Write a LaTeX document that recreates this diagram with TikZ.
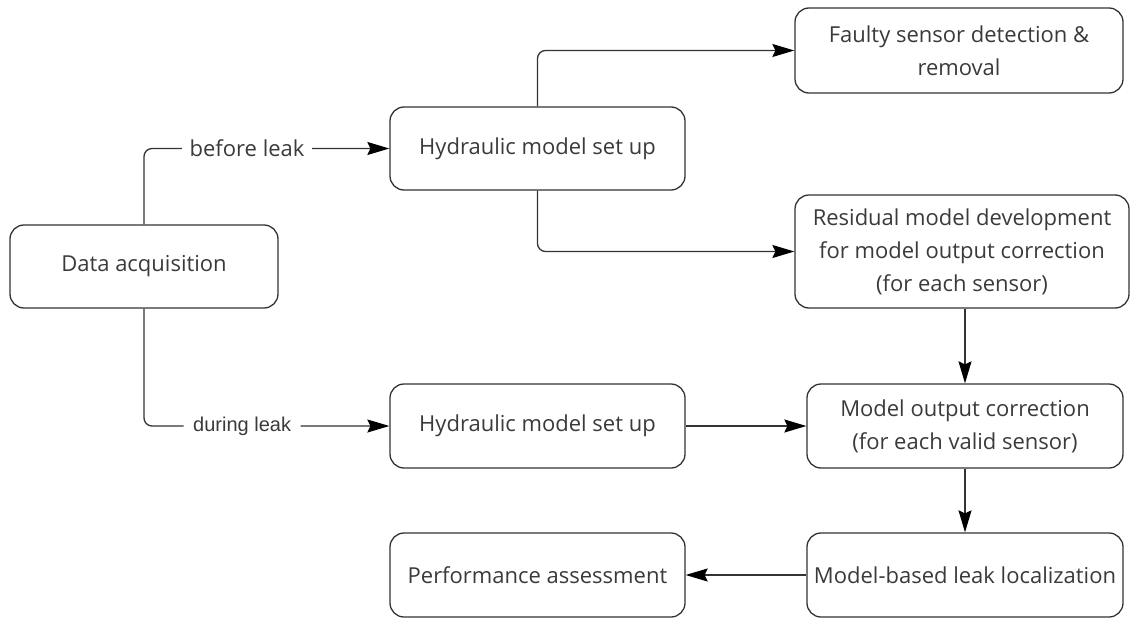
\documentclass[tikz,border=0pt]{standalone}
\usepackage{fontspec}
\setmainfont{Open Sans}
\newfontfamily\arialfont{Liberation Sans}
\usetikzlibrary{arrows.meta}
\definecolor{linec}{HTML}{333333}
\definecolor{textc}{HTML}{3A3A3A}
\begin{document}
\begin{tikzpicture}[x=1pt,y=-1pt,
  box/.style={draw=linec, line width=1.3pt, rounded corners=14pt, rectangle,
    align=center, text=textc, inner sep=0pt, font=\fontsize{22}{33}\selectfont},
  arr/.style={draw=linec, line width=1.3pt, rounded corners=8pt,
    -{Stealth[length=22pt,width=13pt,inset=3pt,color=black,fill=black]}},
  lbl/.style={fill=white, text=textc, inner ysep=2pt}
]
\useasboundingbox (0,0) rectangle (1130,618);
\node[box, minimum width=268pt, minimum height=83pt] (da) at (144,266.5) {Data acquisition};
\node[box, minimum width=295pt, minimum height=83pt] (h1) at (537.5,148.5) {Hydraulic model set up};
\node[box, minimum width=328pt, minimum height=85pt] (fs) at (959,50.5) {Faulty sensor detection \&\\removal};
\node[box, minimum width=334pt, minimum height=113pt] (res) at (962,251.5) {Residual model development\\for model output correction\\(for each sensor)};
\node[box, minimum width=295pt, minimum height=84pt] (h2) at (537.5,426) {Hydraulic model set up};
\node[box, minimum width=316pt, minimum height=84pt] (corr) at (965,426) {Model output correction\\(for each valid sensor)};
\node[box, minimum width=316pt, minimum height=84pt] (mb) at (965,575) {Model-based leak localization};
\node[box, minimum width=295pt, minimum height=84pt] (pa) at (537.5,575) {Performance assessment};

\draw[arr] (da.north) |- node[lbl, pos=0.71, inner xsep=7.5pt, font=\fontsize{22}{26}\selectfont] (bl) {before leak} (h1.west);
\draw[arr] (da.south) |- node[lbl, pos=0.70, inner xsep=9.5pt, font=\arialfont\fontsize{20}{24}\selectfont] (dl) {during leak} (h2.west);
\draw[arr] (h1.north) |- (fs.west);
\draw[arr] (h1.south) |- (res.west);
\draw[arr] (h2.east) -- (corr.west);
\draw[arr] (res.south -| corr.north) -- (corr.north);
\draw[arr] (corr.south) -- (mb.north);
\draw[arr] (mb.west) -- (pa.east);
\end{tikzpicture}
\end{document}
